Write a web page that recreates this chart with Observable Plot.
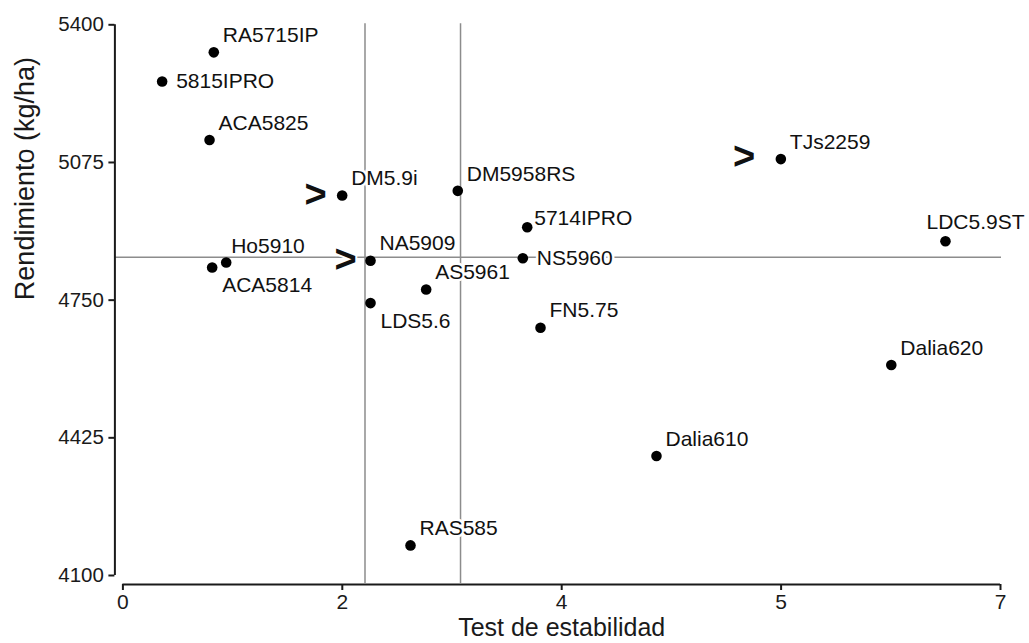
<!DOCTYPE html>
<html>
<head>
<meta charset="utf-8">
<script src="https://cdn.jsdelivr.net/npm/d3@7"></script>
<script src="https://cdn.jsdelivr.net/npm/@observablehq/plot@0.6"></script>
<style>
  html, body { margin: 0; padding: 0; background: white; }
</style>
</head>
<body>
<div id="chart"></div>
<script>
// ---- data ----
const genotypes   = ["RA5715IP","5815IPRO","ACA5825","DM5.9i","DM5958RS","TJs2259","5714IPRO","LDC5.9ST","Ho5910","ACA5814","NA5909","NS5960","AS5961","LDS5.6","FN5.75","Dalia620","Dalia610","RAS585"];
const estabilidad = [0.725, 0.313, 0.691, 1.749, 2.671, 5.248, 3.225, 6.561, 0.824, 0.712, 1.975, 3.190, 2.419, 1.975, 3.331, 6.129, 4.256, 2.294];
const rendimiento = [5335, 5266, 5128, 4997, 5008, 5083, 4922, 4889, 4839, 4827, 4843, 4849, 4775, 4743, 4685, 4597, 4382, 4171];
const labelPos    = ["ne","e","ne","ne","ne","ne","ene","nw","n","se","ne","e","ne","se","ne","ne","ne","ne"];

const arrowX = [1.536, 1.776, 4.955];
const arrowY = [4999, 4845, 5088];

const vLines = [1.931, 2.693];
const hLines = [4851];

const xTicks = [0, 1.75, 3.5, 5.25, 7];
const xTickLabels = ["0", "2", "4", "5", "7"];
const yTicks = [4100, 4425, 4750, 5075, 5400];
const yTickLabels = ["4100", "4425", "4750", "5075", "5400"];

const xTitle = "Test de estabilidad";
const yTitle = "Rendimiento (kg/ha)";

// ---- table ----
const points = genotypes.map((g, i) => ({g, x: estabilidad[i], y: rendimiento[i], pos: labelPos[i]}));
const arrows = arrowX.map((x, i) => ({x, y: arrowY[i]}));

const offsets = {
  ne:  {dx: 9,   dy: -17},
  n:   {dx: 5,   dy: -16},
  e:   {dx: 14,  dy: 0},
  ene: {dx: 7,   dy: -9},
  se:  {dx: 10,  dy: 18},
  nw:  {dx: -19, dy: -19}
};

const axisColor = "#1a1a1a";
const refColor = "#8c8c8c";

const labelMarks = Object.entries(offsets).map(([k, o]) =>
  Plot.text(points.filter(d => d.pos === k), {
    x: "x", y: "y", text: "g",
    dx: o.dx, dy: o.dy, textAnchor: "start",
    fontSize: 21, fill: "#111",
    stroke: "white", strokeWidth: 5
  })
);

const chart = Plot.plot({
  width: 1029,
  height: 643,
  marginLeft: 122.4,
  marginRight: 29,
  marginTop: 24.3,
  marginBottom: 68,
  style: {fontFamily: "'Liberation Sans', Arial, sans-serif", background: "white", color: axisColor},
  x: {domain: [0, 7]},
  y: {domain: [4100, 5400]},
  marks: [
    // reference lines
    Plot.ruleX(vLines, {stroke: refColor, strokeWidth: 1.5, insetTop: -1, insetBottom: -8}),
    Plot.ruleY(hLines, {stroke: refColor, strokeWidth: 1.5, insetLeft: -8, insetRight: -1}),
    // axes
    Plot.ruleX([0], {y1: 4100, y2: 5400, dx: -8, stroke: axisColor, strokeWidth: 2}),
    Plot.axisY({ticks: yTicks, tickFormat: d => yTickLabels[yTicks.indexOf(d)], tickSize: 6, tickPadding: 5, dx: -8, fontSize: 20.5, label: null, stroke: axisColor, strokeWidth: 2, fill: axisColor}),
    Plot.ruleY([4100], {x1: 0, x2: 7, dy: 9, stroke: axisColor, strokeWidth: 2}),
    Plot.axisX({ticks: xTicks, tickFormat: d => xTickLabels[xTicks.indexOf(d)], tickSize: 6, tickPadding: 4, dy: 9, fontSize: 21, label: null, stroke: axisColor, strokeWidth: 2, fill: axisColor}),
    // axis titles
    Plot.text([yTitle], {frameAnchor: "left", dx: -98, rotate: -90, fontSize: 27, fill: axisColor}),
    Plot.text([xTitle], {frameAnchor: "bottom", dy: 60, fontSize: 25, fill: axisColor}),
    // labels & points
    ...labelMarks,
    Plot.text(arrows, {x: "x", y: "y", text: d => ">", fontSize: 38, fontWeight: "bold", fill: "#111", stroke: "white", strokeWidth: 4}),
    Plot.dot(points, {x: "x", y: "y", r: 5.3, fill: "#000"})
  ]
});

document.getElementById("chart").appendChild(chart);
</script>
</body>
</html>
